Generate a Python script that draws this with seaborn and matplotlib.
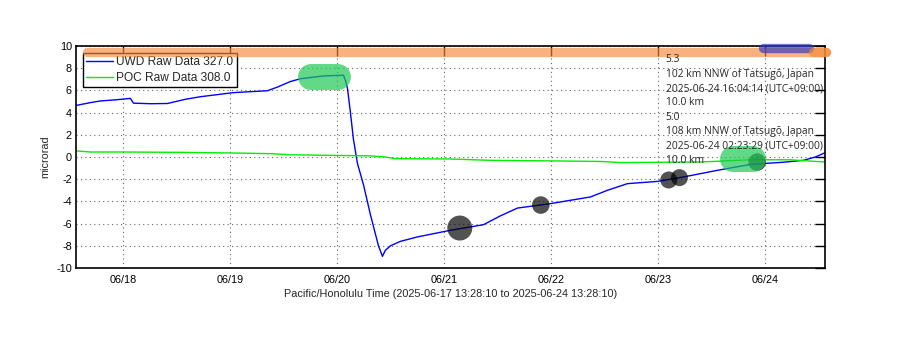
import numpy as np
import pandas as pd
import matplotlib
matplotlib.use("Agg")
import matplotlib.pyplot as plt
import matplotlib.dates as mdates
from matplotlib.lines import Line2D
import seaborn as sns

# ---- data (day-of-June, local Pacific/Honolulu time) ----
uwd_day = [17.565, 17.696, 17.790, 17.930, 18.070, 18.098, 18.257, 18.416, 18.584,
           18.724, 19.033, 19.350, 19.444, 19.565, 19.659, 19.874, 20.061, 20.079,
           20.098, 20.126, 20.154, 20.192, 20.248, 20.313, 20.388, 20.425, 20.453,
           20.500, 20.593, 20.752, 21.061, 21.369, 21.528, 21.687, 21.995, 22.369,
           22.528, 22.715, 22.995, 23.238, 23.556, 23.864, 24.173, 24.360, 24.472,
           24.565]
uwd_val = [4.65, 4.9, 5.05, 5.15, 5.28, 4.85, 4.8, 4.82, 5.2,
           5.43, 5.8, 5.97, 6.3, 6.8, 7.05, 7.3, 7.37, 6.9,
           6.2, 4.0, 1.6, -0.6, -2.5, -5.2, -8.0, -8.95, -8.4,
           -8.0, -7.6, -7.2, -6.6, -6.1, -5.3, -4.6, -4.2, -3.6,
           -3.0, -2.4, -2.2, -1.8, -1.2, -0.67, -0.47, -0.3, 0.0,
           0.4]

poc_day = [17.565, 17.696, 17.995, 18.537, 19.098, 19.379, 19.565, 19.939, 20.313,
           20.453, 20.547, 21.061, 21.435, 21.995, 22.463, 22.650, 23.397, 23.864,
           24.238, 24.472, 24.565]
poc_val = [0.55, 0.45, 0.45, 0.42, 0.35, 0.3, 0.2, 0.15, 0.1,
           0.0, -0.15, -0.18, -0.3, -0.35, -0.4, -0.5, -0.45, -0.25,
           -0.25, -0.4, -0.45]

series_names = ["UWD Raw Data 327.0", "POC Raw Data 308.0"]

# earthquake circles
quake_day = [21.148, 21.905, 23.101, 23.201, 23.927]
quake_val = [-6.4, -4.33, -2.07, -1.86, -0.46]
quake_size = [324, 160, 150, 150, 160]

# highlight bands (start day, end day, level)
green_hl = [(19.762, 20.014, 7.2), (23.706, 23.884, -0.2)]
orange_bars = [(17.662, 24.57, 9.5)]
blue_bars = [(23.98, 24.41, 9.8)]
orange_end = [(24.45, 24.57, 9.5)]

annot_lines = ["5.3", "102 km NNW of Tatsugō, Japan",
               "2025-06-24 16:04:14 (UTC+09:00)", "10.0 km",
               "5.0", "108 km NNW of Tatsugō, Japan",
               "2025-06-24 02:23:29 (UTC+09:00)", "10.0 km"]

xlabel = "Pacific/Honolulu Time (2025-06-17 13:28:10 to 2025-06-24 13:28:10)"
ylabel = "microrad"
t_start = pd.Timestamp("2025-06-17 13:28:10")
t_end = pd.Timestamp("2025-06-24 13:28:10")

def to_ts(days):
    return [pd.Timestamp("2025-06-01") + pd.Timedelta(days=d - 1) for d in days]

df = pd.concat([
    pd.DataFrame({"time": to_ts(uwd_day), "value": uwd_val, "series": series_names[0]}),
    pd.DataFrame({"time": to_ts(poc_day), "value": poc_val, "series": series_names[1]}),
])
qdf = pd.DataFrame({"time": to_ts(quake_day), "value": quake_val, "size": quake_size})

sns.set_theme(style="white")
plt.rcParams["font.family"] = ["Liberation Sans", "DejaVu Sans"]
plt.rcParams["axes.unicode_minus"] = False

fig = plt.figure(figsize=(9, 3.52), dpi=100)
ax = fig.add_axes([76 / 900, 1 - 268 / 352, 749 / 900, 222 / 352])

sns.lineplot(data=df, x="time", y="value", hue="series",
             palette={series_names[0]: "#0000ff", series_names[1]: "#00ee00"},
             estimator=None, sort=False, linewidth=1.0,
             legend=False, ax=ax, zorder=3)

sns.scatterplot(data=qdf, x="time", y="value", size="size", sizes=(min(quake_size), max(quake_size)),
                color="black", alpha=0.68, edgecolor="none", legend=False, ax=ax, zorder=4)

for a, b, y in green_hl:
    ax.plot(to_ts([a, b]), [y, y], color="#20c955", alpha=0.7, lw=18.7,
            solid_capstyle="round", zorder=5)
for a, b, y in orange_bars:
    ax.plot(to_ts([a, b]), [y, y], color="#f5893a", alpha=0.65, lw=6.7,
            solid_capstyle="round", zorder=7, clip_on=False)
for a, b, y in blue_bars:
    ax.plot(to_ts([a, b]), [y, y], color="#2a35c8", alpha=0.65, lw=6.7,
            solid_capstyle="round", zorder=7, clip_on=False)
for a, b, y in orange_end:
    ax.plot(to_ts([a, b]), [y, y], color="#f5893a", alpha=0.65, lw=6.7,
            solid_capstyle="round", zorder=7, clip_on=False)

ax.set_xlim(t_start, t_end)
ax.set_ylim(-10, 10)
ax.set_yticks(np.arange(-10, 11, 2))
ax.xaxis.set_major_locator(mdates.DayLocator())
ax.xaxis.set_major_formatter(mdates.DateFormatter("%m/%d"))
ax.grid(True, color="#666666", linestyle=(0, (1, 3)), linewidth=0.8)
ax.tick_params(axis="both", which="major", direction="in", length=7, width=1,
               colors="black", labelsize=7.8, top=True, right=True)
ax.tick_params(axis="y", pad=3)
ax.tick_params(axis="x", pad=5)
for s in ax.spines.values():
    s.set_color("black")
    s.set_linewidth(1.2)
    s.set_zorder(6)

ax.set_xlabel(xlabel, fontsize=7.8, labelpad=3)
ax.set_ylabel(ylabel, fontsize=7.8, labelpad=4)

handles = [Line2D([], [], color="#0000ff", lw=1.0), Line2D([], [], color="#00ee00", lw=1.0)]
leg = ax.legend(handles, series_names, loc="upper left", bbox_to_anchor=(0.009, 0.97),
                borderaxespad=0, fontsize=8.6, frameon=True, fancybox=False,
                framealpha=1, edgecolor="black", borderpad=0.3, labelspacing=0.3,
                handlelength=2.2, handletextpad=0.3)
leg.get_frame().set_linewidth(1.0)
leg.set_zorder(6)

y0 = 60
for i, t in enumerate(annot_lines):
    fig.text(665.5 / 900, 1 - (y0 + i * 14.3) / 352, t, fontsize=7.4,
             family=["Open Sans", "DejaVu Sans"], va="center", ha="left", zorder=8)

fig.savefig("out.png", dpi=100)
